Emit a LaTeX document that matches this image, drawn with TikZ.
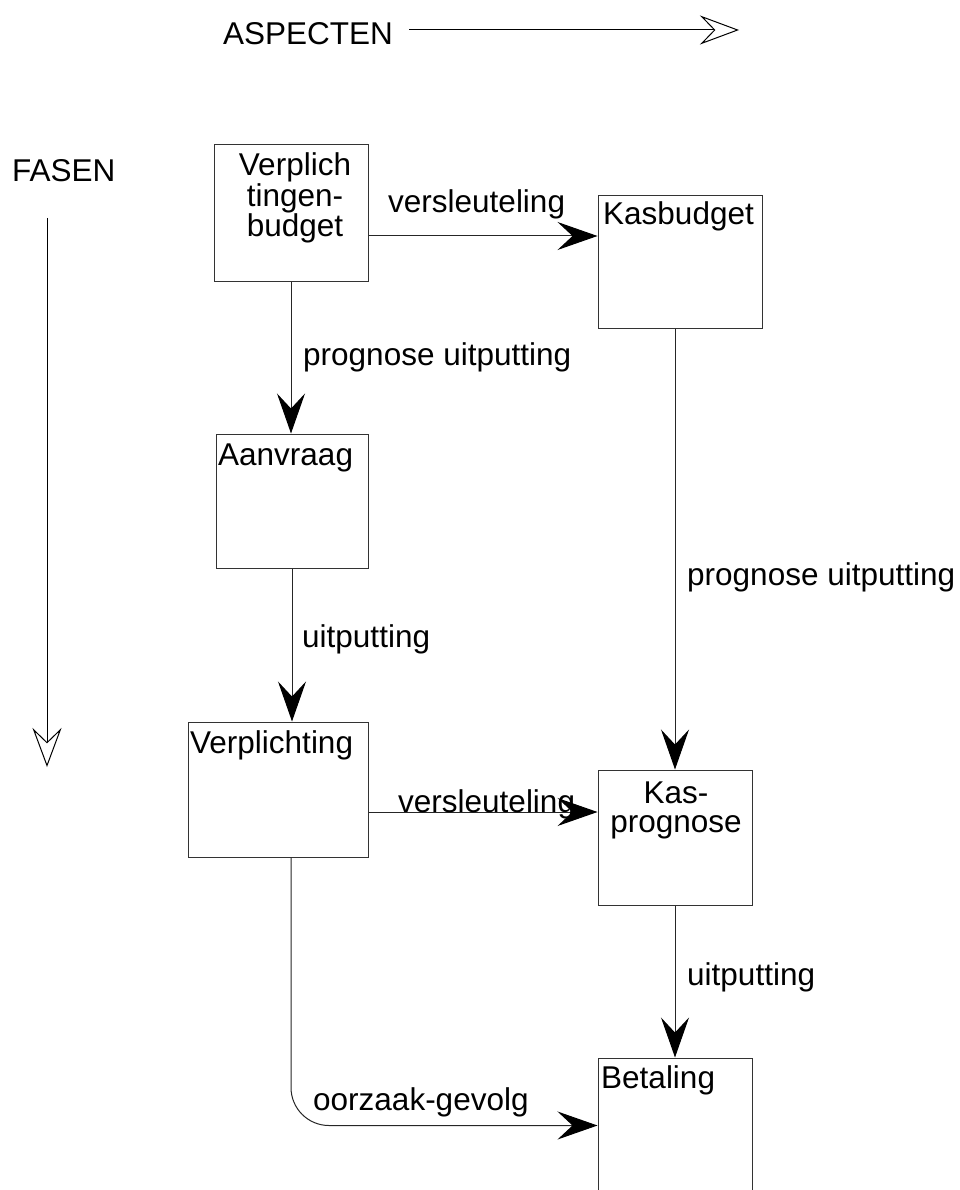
\documentclass[tikz,border=0pt]{standalone}
\usepackage{fontspec}
\setmainfont{Liberation Sans}
\usetikzlibrary{arrows.meta}

\tikzset{
  every node/.style={font=\fontsize{31.5}{29}\selectfont},
  box/.style={draw=black!80, line width=1pt, inner sep=0pt},
  txt/.style={inner sep=0pt, anchor=base west},
  conn/.style={draw=black!85, line width=1pt,
    -{Stealth[length=40pt, width=28pt, inset=15pt, black]}},
  axis/.style={draw=black, line width=1pt,
    -{Stealth[open, length=39pt, width=29pt, inset=14pt, line width=1pt]}}
}

\begin{document}
\begin{tikzpicture}[x=1pt, y=-1pt]
  \useasboundingbox (0,0) rectangle (959,1190);

  % axis captions
  \node[txt] (asp) at (223,45) {ASPECTEN};
  \node[txt] (fas) at (12,182) {FASEN};
  \coordinate (aspStart) at (409,30);
  \coordinate (aspEnd) at (739,30);
  \coordinate (fasStart) at (47,218);
  \coordinate (fasEnd) at (47,767);
  \draw[axis] (aspStart) -- (aspEnd);
  \draw[axis] (fasStart) -- (fasEnd);

  % boxes
  \node[box, minimum width=154pt, minimum height=136pt] (b1) at (291,213) {};
  \node[box, minimum width=164pt, minimum height=132pt] (b2) at (680,262) {};
  \node[box, minimum width=152pt, minimum height=134pt] (b3) at (292,501) {};
  \node[box, minimum width=180pt, minimum height=135pt] (b4) at (278,789.5) {};
  \node[box, minimum width=154pt, minimum height=135pt] (b5) at (675,837.5) {};
  \node[box, minimum width=154pt, minimum height=142pt] (b6) at (675,1129) {};

  % box texts
  \node[inner sep=0pt, align=center] (t1) at (295,198) {Verplich\\tingen-\\budget};
  \node[txt] (t2) at (603,225) {Kasbudget};
  \node[txt] (t3) at (218,465) {Aanvraag};
  \node[txt] (t4) at (190,753) {Verplichting};
  \node[inner sep=0pt, align=center] (t5) at (676,810) {Kas-\\prognose};
  \node[txt] (t6) at (601,1088) {Betaling};

  % connectors
  \draw[conn] ([yshift=-23pt]b1.east) coordinate (s1) -- (s1 -| b2.west);
  \draw[conn] (b1.south) -- (b1.south |- b3.north);
  \draw[conn] (b3.south) -- (b3.south |- b4.north);
  \draw[conn] (b5.north |- b2.south) -- (b5.north);
  \draw[conn] ([yshift=-22.5pt]b4.east) coordinate (s2) -- (s2 -| b5.west);
  \draw[conn] (b5.south) -- (b6.north);
  \draw[conn, rounded corners=38pt] ([xshift=13pt]b4.south) coordinate (s3)
    |- ([yshift=-68pt]b6.north west);

  % connector labels
  \node[txt] (l1) at (388,213) {versleuteling};
  \node[txt] (l2) at (303,365) {prognose uitputting};
  \node[txt] (l3) at (302,647) {uitputting};
  \node[txt] (l4) at (687,585) {prognose uitputting};
  \node[txt] (l5) at (398,812) {versleuteling};
  \node[txt] (l6) at (687,985) {uitputting};
  \node[txt] (l7) at (313,1110) {oorzaak-gevolg};
\end{tikzpicture}
\end{document}
